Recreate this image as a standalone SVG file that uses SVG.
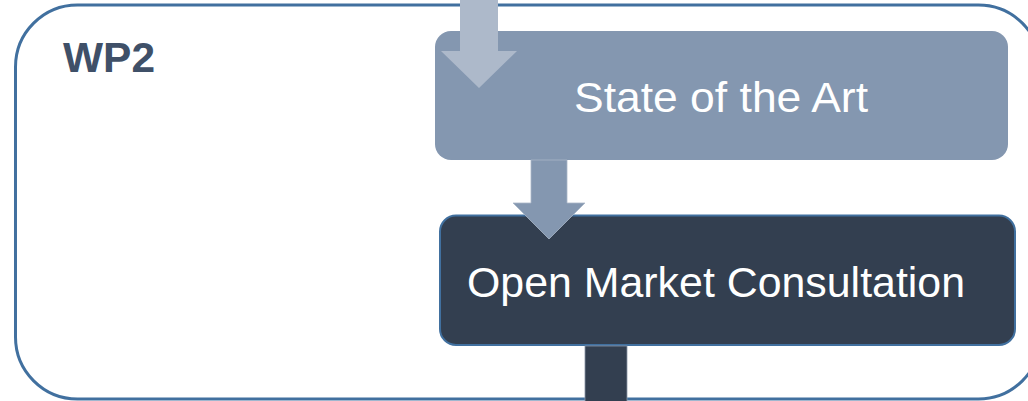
<svg xmlns="http://www.w3.org/2000/svg" width="1028" height="401" viewBox="0 0 1028 401">
<style>
.lbl{font-family:"Liberation Sans",Arial,sans-serif;fill:#ffffff;font-size:42px}
.title{font-family:"Liberation Sans",Arial,sans-serif;font-weight:bold;fill:#3f5068;font-size:42px}
</style>
<rect width="1028" height="401" fill="#ffffff"/>
<g id="wp2">
<rect x="15.5" y="5" width="1025" height="394" rx="62" ry="62" fill="#ffffff" stroke="#41709f" stroke-width="3"/>
<text class="title" x="63" y="72" textLength="92" lengthAdjust="spacingAndGlyphs">WP2</text>
</g>
<g id="state">
<rect x="435" y="31" width="573" height="129" rx="16" ry="16" fill="#8497b0"/>
<text class="lbl" x="574" y="112" textLength="294" lengthAdjust="spacingAndGlyphs">State of the Art</text>
</g>
<g id="omc">
<rect x="440" y="215.5" width="575" height="129.5" rx="16" ry="16" fill="#333f50" stroke="#41709f" stroke-width="2"/>
<text class="lbl" x="467" y="297" textLength="498" lengthAdjust="spacingAndGlyphs">Open Market Consultation</text>
</g>
<g id="connectors">
<polygon points="460,0 498,0 498,51 517,51 479,88 441,51 460,51" fill="#adb9ca"/>
<polygon points="531,160 567,160 567,203 585,203 549,239 513,203 531,203" fill="#8497b0" stroke="#a9b6c8" stroke-width="0.8"/>
<rect x="585" y="346" width="42" height="56" fill="#333f50" stroke="#8a96a6" stroke-width="0.8"/>
</g>
</svg>
